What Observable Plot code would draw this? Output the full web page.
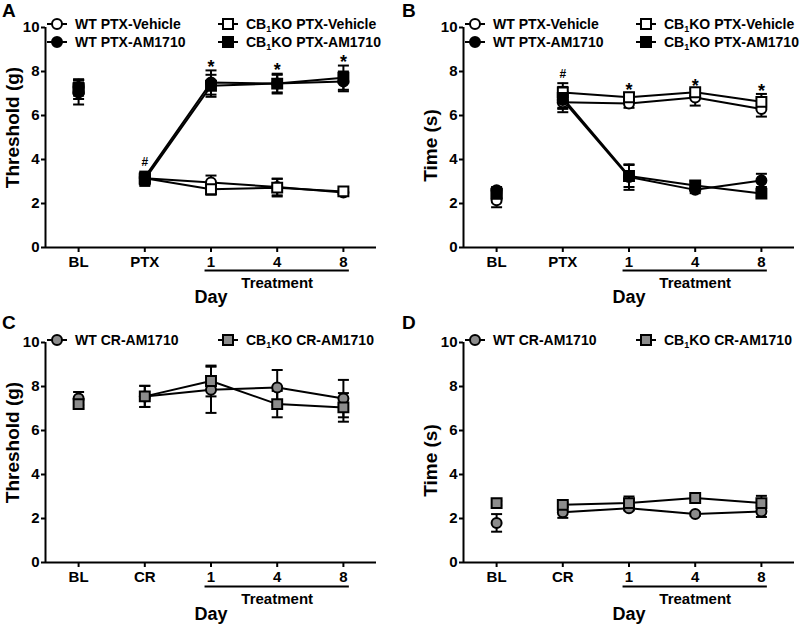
<!DOCTYPE html>
<html><head><meta charset="utf-8">
<script src="https://cdn.jsdelivr.net/npm/d3@7"></script>
<script src="https://cdn.jsdelivr.net/npm/@observablehq/plot@0.6"></script>
<style>
body{margin:0;background:#fff;font-family:"Liberation Sans",Arial,sans-serif;font-weight:bold;color:#000}
#root{position:relative;width:800px;height:624px;overflow:hidden;background:#fff}
.panel{position:absolute;width:400px;height:312px}
.panel svg.plot{position:absolute;left:0;top:0;overflow:visible}
.letter{position:absolute;font-size:19px;font-weight:bold;line-height:1}
.leg{position:absolute;display:flex;align-items:center;font-size:14px;white-space:nowrap;height:16px}
.leg svg{margin-right:6px}
sub{font-size:9px;vertical-align:-3px;line-height:0}
</style></head>
<body><div id="root"></div>
<script>
// ---- data ----
const catsPTX = ["BL", "PTX", "1", "4", "8"];
const catsCR = ["BL", "CR", "1", "4", "8"];
const yTicks = [0, 2, 4, 6, 8, 10];

// Panel A: mechanical threshold (g)
const aWtVeh = [7.3, 3.15, 2.95, 2.75, 2.5];
const aWtVehSem = [0.3, 0.2, 0.32, 0.38, 0.1];
const aWtAm = [7.05, 3.2, 7.5, 7.45, 7.55];
const aWtAmSem = [0.55, 0.25, 0.55, 0.4, 0.45];
const aKoVeh = [7.25, 3.15, 2.65, 2.72, 2.55];
const aKoVehSem = [0.35, 0.2, 0.25, 0.4, 0.12];
const aKoAm = [7.2, 3.1, 7.35, 7.45, 7.72];
const aKoAmSem = [0.45, 0.3, 0.5, 0.45, 0.55];

// Panel B: latency (s)
const bWtVeh = [2.15, 6.6, 6.55, 6.82, 6.3];
const bWtVehSem = [0.32, 0.45, 0.2, 0.37, 0.35];
const bWtAm = [2.6, 6.7, 3.2, 2.62, 3.05];
const bWtAmSem = [0.15, 0.35, 0.58, 0.15, 0.3];
const bKoVeh = [2.45, 7.05, 6.83, 7.06, 6.62];
const bKoVehSem = [0.2, 0.42, 0.2, 0.15, 0.36];
const bKoAm = [2.45, 6.8, 3.25, 2.82, 2.45];
const bKoAmSem = [0.2, 0.5, 0.5, 0.2, 0.15];

// Panel C: threshold (g), CR
const cWt = [7.45, 7.55, 7.85, 7.95, 7.45];
const cWtSem = [0.3, 0.48, 1.05, 0.8, 0.85];
const cKo = [7.2, 7.55, 8.25, 7.2, 7.05];
const cKoSem = [0.2, 0.48, 0.7, 0.6, 0.65];

// Panel D: time (s), CR
const dWt = [1.8, 2.28, 2.47, 2.2, 2.32];
const dWtSem = [0.4, 0.25, 0.1, 0.08, 0.25];
const dKo = [2.7, 2.62, 2.7, 2.93, 2.7];
const dKoSem = [0.1, 0.1, 0.3, 0.1, 0.33];

// significance marks: [category, label]
const sigPTX = [["PTX", "#"], ["1", "*"], ["4", "*"], ["8", "*"]];

const GREY = "#8c8c8c";
const FONT = '"Liberation Sans", Arial, sans-serif';

function series(name, means, sems, shape, fill) {
  return {name, shape, fill, rows: means.map((m, i) => ({series: name, xi: i, mean: m, lo: m - sems[i], hi: m + sems[i]}))};
}

const capSymbol = {draw(ctx, size) { const r = Math.sqrt(size / Math.PI); ctx.moveTo(-r, 0); ctx.lineTo(r, 0); }};

function makePanel(cfg) {
  const {left, top, cats, ser, ylabel, ylabelDy, sig, marginLeft, marginTop, marginBottom, letter, legend} = cfg;
  const width = 400, height = 312;
  const marginRight = cfg.marginRight;
  const all = ser.flatMap(s => s.rows);
  const marks = [];
  // axis lines
  marks.push(Plot.ruleX([-0.5], {y1: 0, y2: 10, stroke: "black", strokeWidth: 2}));
  marks.push(Plot.ruleY([0], {x1: -0.5, x2: 4.5, stroke: "black", strokeWidth: 2}));
  marks.push(Plot.axisY({ticks: yTicks, tickSize: 4, tickPadding: 2, strokeWidth: 2, fontSize: 15, fontWeight: "bold", label: null, x: -0.5}));
  marks.push(Plot.axisX({ticks: d3.range(cats.length), tickFormat: i => cats[i], tickSize: 5, tickPadding: 4, strokeWidth: 2, fontSize: 15, fontWeight: "bold", label: null, y: 0}));
  // lines (BL not connected)
  for (const s of ser) {
    marks.push(Plot.line(s.rows.filter(d => d.xi > 0), {x: "xi", y: "mean", stroke: "black", strokeWidth: 2}));
  }
  // error bars
  for (const s of ser) {
    marks.push(Plot.ruleX(s.rows, {x: "xi", y1: "lo", y2: "hi", stroke: "black", strokeWidth: 2}));
    marks.push(Plot.dot(s.rows, {x: "xi", y: "hi", symbol: capSymbol, r: 5.5, stroke: "black", strokeWidth: 2, fill: "none"}));
    marks.push(Plot.dot(s.rows, {x: "xi", y: "lo", symbol: capSymbol, r: 5.5, stroke: "black", strokeWidth: 2, fill: "none"}));
  }
  // markers
  for (const s of ser) {
    marks.push(Plot.dot(s.rows, {x: "xi", y: "mean", symbol: s.shape, r: s.shape === "square" ? 5.6 : 5, fill: s.fill, stroke: "black", strokeWidth: 2}));
  }
  // significance
  if (sig) {
    const sigRows = sig.map(([c, lab]) => {
      const xi = cats.indexOf(c);
      return {xi, lab, y: d3.max(all.filter(d => d.xi === xi), d => d.hi)};
    });
    marks.push(Plot.text(sigRows.filter(d => d.lab === "#"), {x: "xi", y: "y", text: "lab", dy: -9, fontSize: 12, fontWeight: "bold"}));
    marks.push(Plot.text(sigRows.filter(d => d.lab === "*"), {x: "xi", y: "y", text: "lab", dy: -3, fontSize: 18, fontWeight: "bold"}));
  }
  // treatment bracket
  const i1 = cats.indexOf("1"), i8 = cats.indexOf("8");
  const pad = 0.09;
  marks.push(Plot.ruleY([0], {x1: i1 - pad, x2: i8 + pad, dy: cfg.treatDy, stroke: "black", strokeWidth: 2}));
  marks.push(Plot.text(["Treatment"], {x: (i1 + i8) / 2, y: 0, dy: cfg.treatDy + 13, fontSize: 15, fontWeight: "bold"}));
  marks.push(Plot.text(["Day"], {frameAnchor: "bottom", lineAnchor: "middle", dy: cfg.dayDy, fontSize: 18, fontWeight: "bold"}));
  marks.push(Plot.text([ylabel], {frameAnchor: "left", textAnchor: "middle", lineAnchor: "middle", rotate: -90, dx: -33, dy: ylabelDy, fontSize: 19, fontWeight: "bold"}));

  const svg = Plot.plot({
    width, height, marginLeft, marginRight, marginTop, marginBottom,
    x: {type: "linear", domain: [-0.5, 4.5]},
    y: {domain: [0, 10]},
    style: {fontFamily: FONT, background: "white", color: "black", overflow: "visible"},
    marks
  });
  svg.classList.add("plot");
  const div = document.createElement("div");
  div.className = "panel";
  div.style.left = left + "px"; div.style.top = top + "px";
  div.appendChild(svg);
  const L = document.createElement("div");
  L.className = "letter"; L.textContent = letter;
  L.style.left = "2px"; L.style.top = "1px";
  div.appendChild(L);
  // legend
  legend.forEach((it) => {
    const s = ser[it.idx];
    const el = document.createElement("div");
    el.className = "leg";
    el.style.left = (marginLeft + it.col * 171) + "px";
    el.style.top = (it.rowY - 8) + "px";
    const mk = s.shape === "circle"
      ? `<circle cx="12" cy="8" r="5" fill="${s.fill}" stroke="black" stroke-width="2"/>`
      : `<rect x="7" y="3" width="10" height="10" fill="${s.fill}" stroke="black" stroke-width="2"/>`;
    el.innerHTML = `<svg width="24" height="16"><line x1="2" x2="22" y1="8" y2="8" stroke="black" stroke-width="2"/>${mk}</svg><span>${it.html}</span>`;
    div.appendChild(el);
  });
  document.getElementById("root").appendChild(div);
}

const serA = [
  series("WT PTX-Vehicle", aWtVeh, aWtVehSem, "circle", "white"),
  series("CB1KO PTX-Vehicle", aKoVeh, aKoVehSem, "square", "white"),
  series("WT PTX-AM1710", aWtAm, aWtAmSem, "circle", "black"),
  series("CB1KO PTX-AM1710", aKoAm, aKoAmSem, "square", "black")
];
const serB = [
  series("WT PTX-Vehicle", bWtVeh, bWtVehSem, "circle", "white"),
  series("CB1KO PTX-Vehicle", bKoVeh, bKoVehSem, "square", "white"),
  series("WT PTX-AM1710", bWtAm, bWtAmSem, "circle", "black"),
  series("CB1KO PTX-AM1710", bKoAm, bKoAmSem, "square", "black")
];
const serC = [
  series("WT CR-AM1710", cWt, cWtSem, "circle", GREY),
  series("CB1KO CR-AM1710", cKo, cKoSem, "square", GREY)
];
const serD = [
  series("WT CR-AM1710", dWt, dWtSem, "circle", GREY),
  series("CB1KO CR-AM1710", dKo, dKoSem, "square", GREY)
];
const legPTX = (r1, r2) => [
  {idx: 0, col: 0, rowY: r1, html: "WT PTX-Vehicle"},
  {idx: 2, col: 0, rowY: r2, html: "WT PTX-AM1710"},
  {idx: 1, col: 1, rowY: r1, html: "CB<sub>1</sub>KO PTX-Vehicle"},
  {idx: 3, col: 1, rowY: r2, html: "CB<sub>1</sub>KO PTX-AM1710"}
];
const legCR = (r1) => [
  {idx: 0, col: 0, rowY: r1, html: "WT CR-AM1710"},
  {idx: 1, col: 1, rowY: r1, html: "CB<sub>1</sub>KO CR-AM1710"}
];

makePanel({left: 0, top: 0, cats: catsPTX, ser: serA, ylabel: "Threshold (g)", ylabelDy: -10, sig: sigPTX,
  marginLeft: 45, marginRight: 24, marginTop: 27, marginBottom: 65, letter: "A", legend: legPTX(24, 42), treatDy: 23, dayDy: 50});
makePanel({left: 400, top: 0, cats: catsPTX, ser: serB, ylabel: "Time (s)", ylabelDy: 8, sig: sigPTX,
  marginLeft: 63, marginRight: 6, marginTop: 27, marginBottom: 65, letter: "B", legend: legPTX(24, 42), treatDy: 23, dayDy: 50});
makePanel({left: 0, top: 312, cats: catsCR, ser: serC, ylabel: "Threshold (g)", ylabelDy: -10, sig: null,
  marginLeft: 45, marginRight: 24, marginTop: 30, marginBottom: 62, letter: "C", legend: legCR(28), treatDy: 24, dayDy: 52});
makePanel({left: 400, top: 312, cats: catsCR, ser: serD, ylabel: "Time (s)", ylabelDy: 8, sig: null,
  marginLeft: 63, marginRight: 6, marginTop: 30, marginBottom: 62, letter: "D", legend: legCR(28), treatDy: 24, dayDy: 52});
</script>
</body></html>
